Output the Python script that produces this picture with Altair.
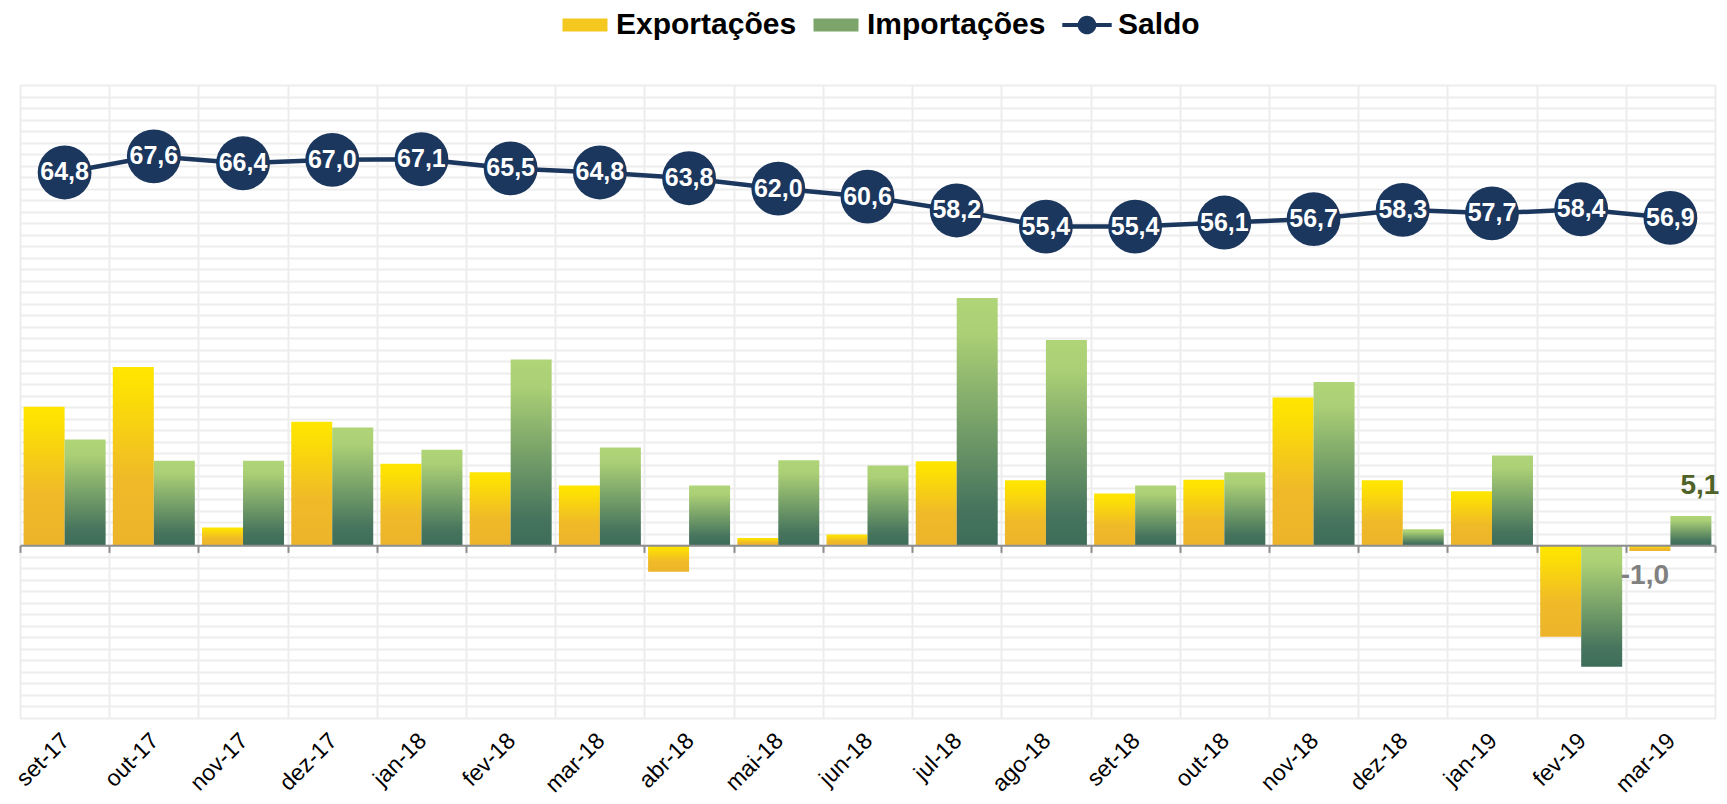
import altair as alt
import pandas as pd

# ---------------- data ----------------
meses = ["set-17", "out-17", "nov-17", "dez-17", "jan-18", "fev-18", "mar-18",
         "abr-18", "mai-18", "jun-18", "jul-18", "ago-18", "set-18", "out-18",
         "nov-18", "dez-18", "jan-19", "fev-19", "mar-19"]
exportacoes = [24.1, 31.0, 3.1, 21.5, 14.2, 12.7, 10.4, -4.6, 1.3, 1.9, 14.6,
               11.3, 9.0, 11.4, 25.7, 11.3, 9.4, -15.9, -1.0]
importacoes = [18.4, 14.7, 14.7, 20.5, 16.6, 32.3, 17.0, 10.4, 14.8, 13.9, 43.0,
               35.7, 10.4, 12.7, 28.4, 2.8, 15.6, -21.1, 5.1]
saldo = [64.8, 67.6, 66.4, 67.0, 67.1, 65.5, 64.8, 63.8, 62.0, 60.6, 58.2,
         55.4, 55.4, 56.1, 56.7, 58.3, 57.7, 58.4, 56.9]
series = ["Exportações", "Importações", "Saldo"]


def fmt(v):
    return f"{v:.1f}".replace(".", ",")


df_barras = pd.DataFrame(
    [{"mes": m, "serie": "Exportações", "valor": v} for m, v in zip(meses, exportacoes)]
    + [{"mes": m, "serie": "Importações", "valor": v} for m, v in zip(meses, importacoes)]
)
df_saldo = pd.DataFrame({"mes": meses, "valor": saldo, "rotulo": [fmt(v) for v in saldo]})
df_rot_exp = pd.DataFrame({"mes": [meses[-1]], "serie": ["Exportações"],
                           "valor": [exportacoes[-1]], "rotulo": [fmt(exportacoes[-1])]})
df_rot_imp = pd.DataFrame({"mes": [meses[-1]], "serie": ["Importações"],
                           "valor": [importacoes[-1]], "rotulo": [fmt(importacoes[-1])]})
df_legenda = pd.DataFrame({"serie": series})

# ---------------- style ----------------
FONT = "Liberation Sans"
AZUL = "#1B375E"
GRID = "#EDEDED"
EIXO = "#8E8E8E"
W, H = 1695, 633
YMIN, YMAX = -30, 80
OFF_ZERO = H * (0 - YMIN) / (YMAX - YMIN)

grad_amarelo = alt.Gradient(
    gradient="linear", x1=0, x2=0, y1=0, y2=1,
    stops=[alt.GradientStop(color="#FFE600", offset=0),
           alt.GradientStop(color="#FDE004", offset=0.12),
           alt.GradientStop(color="#EFBA28", offset=0.62),
           alt.GradientStop(color="#EDB42B", offset=1)])
grad_verde = alt.Gradient(
    gradient="linear", x1=0, x2=0, y1=0, y2=1,
    stops=[alt.GradientStop(color="#B0D578", offset=0),
           alt.GradientStop(color="#AACF75", offset=0.15),
           alt.GradientStop(color="#46745D", offset=0.85),
           alt.GradientStop(color="#3D6D5A", offset=1)])

rect_path = "M-1.73,-0.5L1.73,-0.5L1.73,0.5L-1.73,0.5Z"
saldo_path = ("M-1.9,-0.16L1.9,-0.16L1.9,0.16L-1.9,0.16Z"
              "M0.72,0A0.72,0.72,0,1,1,-0.72,0A0.72,0.72,0,1,1,0.72,0Z")

escala_x = alt.Scale(domain=meses, paddingInner=0, paddingOuter=0)
escala_off = alt.Scale(domain=["Exportações", "Importações"], paddingInner=0, paddingOuter=0.088)
escala_y = alt.Scale(domain=[YMIN, YMAX], nice=False, zero=False)

eixo_y = alt.Axis(title=None, labels=False, ticks=False, domain=False, grid=True,
                  gridColor=GRID, gridWidth=2, values=list(range(YMIN, YMAX + 2, 2)))
eixo_x = alt.Axis(title=None, orient="bottom", labelAngle=-45, labelFontSize=23,
                  labelColor="#000000", labelFont=FONT, labelPadding=11, labelOffset=-7,
                  ticks=False, domain=False, grid=True, gridColor=GRID, gridWidth=2,
                  tickBand="extent", labelOverlap=False)
eixo_zero = alt.Axis(title=None, orient="bottom", offset=-OFF_ZERO, labels=False,
                     ticks=True, tickSize=7, tickWidth=2, tickColor=EIXO, domain=True,
                     domainColor=EIXO, domainWidth=2, grid=False, tickBand="extent",
                     zindex=1)

Y = alt.Y("valor:Q", scale=escala_y, axis=eixo_y, stack=None)
XO = alt.XOffset("serie:N", scale=escala_off)

barras_exp = alt.Chart(df_barras).transform_filter(
    alt.datum.serie == "Exportações"
).mark_bar(fill=grad_amarelo).encode(
    x=alt.X("mes:N", sort=meses, scale=escala_x, axis=eixo_x),
    xOffset=XO, y=Y,
)
barras_imp = alt.Chart(df_barras).transform_filter(
    alt.datum.serie == "Importações"
).mark_bar(fill=grad_verde).encode(
    x=alt.X("mes:N", sort=meses, scale=escala_x, axis=eixo_zero),
    xOffset=XO, y=Y,
)

x_sem = alt.X("mes:N", sort=meses, scale=escala_x, axis=None)

linha = alt.Chart(df_saldo).mark_line(color=AZUL, strokeWidth=4.5).encode(x=x_sem, y=Y)
pontos = alt.Chart(df_saldo).mark_circle(color=AZUL, size=2900, opacity=1).encode(x=x_sem, y=Y)
rot_saldo = alt.Chart(df_saldo).mark_text(
    color="#FFFFFF", font=FONT, fontSize=25, fontWeight="bold", baseline="middle"
).encode(x=x_sem, y=Y, text="rotulo:N")

rot_exp = alt.Chart(df_rot_exp).mark_text(
    color="#808080", font=FONT, fontSize=28, fontWeight="bold", baseline="middle",
    dx=-5, dy=25
).encode(x=x_sem, xOffset=XO, y=Y, text="rotulo:N")
rot_imp = alt.Chart(df_rot_imp).mark_text(
    color="#4F6228", font=FONT, fontSize=28, fontWeight="bold", baseline="middle",
    dx=9, dy=-30
).encode(x=x_sem, xOffset=XO, y=Y, text="rotulo:N")

leg = dict(title=None, orient="none", legendX=550, legendY=-75, direction="horizontal",
           labelFont=FONT, labelFontSize=30, labelFontWeight="bold", labelColor="#000000",
           labelLimit=400, symbolSize=676, symbolStrokeWidth=0, labelOffset=16,
           columnPadding=16, padding=0)
legenda = alt.Chart(df_legenda).transform_filter("false").mark_point(
    filled=True, opacity=1
).encode(
    color=alt.Color("serie:N", scale=alt.Scale(domain=series, range=["#F5C81F", "#7CA46B", AZUL]),
                    legend=alt.Legend(**leg)),
    shape=alt.Shape("serie:N", scale=alt.Scale(domain=series, range=[rect_path, rect_path, saldo_path]),
                    legend=alt.Legend(**leg)),
)

chart = alt.layer(
    barras_exp, barras_imp, linha, pontos, rot_saldo, rot_exp, rot_imp, legenda
).resolve_axis(x="independent").properties(
    width=W, height=H,
    autosize=alt.AutoSizeParams(type="none"),
    padding={"left": 12, "top": 77, "right": 4, "bottom": 78},
).configure_view(stroke=None).configure(font=FONT)

chart.save("out.html", embed_options={"renderer": "svg", "actions": False})
